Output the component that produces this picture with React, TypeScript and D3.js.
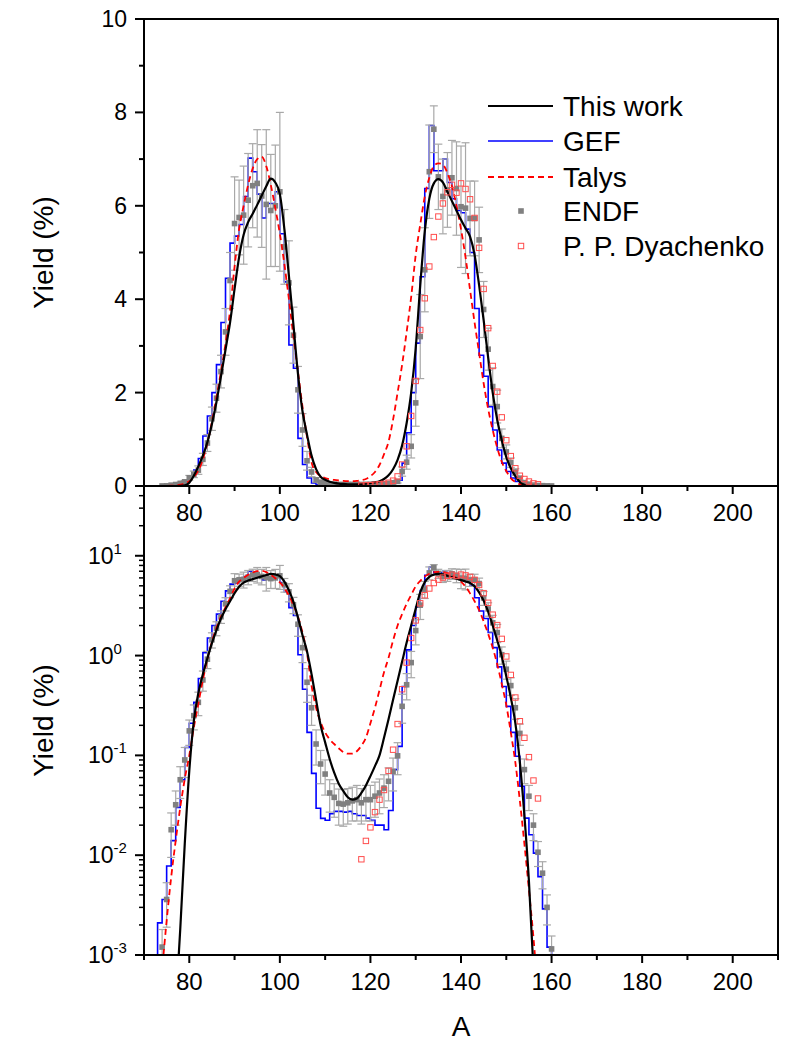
import React from 'react';
import * as d3 from 'd3';

// ---------------- data ----------------
const X_TICKS_MAJOR = [80, 100, 120, 140, 160, 180, 200];
const X_TICKS_MINOR = [70, 90, 110, 130, 150, 170, 190, 210];
const Y_LIN_MAJOR = [0, 2, 4, 6, 8, 10];
const Y_LIN_MINOR = [1, 3, 5, 7, 9];
const Y_LOG_EXP = [-3, -2, -1, 0, 1];

// This work (smooth)
const WORK_A = [71, 73, 75, 76, 77, 78, 79, 80, 81, 82, 83, 84, 85, 86, 87, 88, 89, 90, 91, 92, 93, 94, 95, 96, 97, 98, 99, 100, 101, 102, 103, 104, 105, 106, 107, 108, 109, 110, 111, 112, 113, 114, 115, 116, 117, 118, 119, 120, 121, 122, 123, 124, 125, 126, 127, 128, 129, 130, 131, 132, 133, 134, 135, 136, 137, 138, 139, 140, 141, 142, 143, 144, 145, 146, 147, 148, 149, 150, 151, 152, 153, 154, 155, 156, 157, 160, 165, 172];
const WORK_Y = [1e-9, 1e-7, 1e-5, 6e-5, 3e-4, 1.8e-3, 0.013, 0.07, 0.22, 0.42, 0.65, 0.94, 1.33, 1.8, 2.35, 2.92, 3.5, 4.22, 4.9, 5.38, 5.65, 5.83, 6.02, 6.22, 6.42, 6.58, 6.5, 6.25, 5.5, 4.5, 3.45, 2.4, 1.6, 1.1, 0.65, 0.36, 0.2, 0.135, 0.092, 0.067, 0.052, 0.044, 0.038, 0.036, 0.037, 0.042, 0.05, 0.062, 0.078, 0.1, 0.15, 0.23, 0.36, 0.56, 0.87, 1.35, 2.0, 2.95, 4.3, 5.45, 6.15, 6.48, 6.57, 6.5, 6.3, 6.1, 5.9, 5.7, 5.52, 5.34, 4.95, 4.3, 3.55, 2.75, 2.0, 1.42, 0.98, 0.62, 0.38, 0.21, 0.085, 0.025, 0.0055, 7e-4, 8e-5, 1e-6, 1e-8, 1e-10];

// GEF (histogram, value holds from A to A+1)
const GEF_A = [72, 73, 74, 75, 76, 77, 78, 79, 80, 81, 82, 83, 84, 85, 86, 87, 88, 89, 90, 91, 92, 93, 94, 95, 96, 97, 98, 99, 100, 101, 102, 103, 104, 105, 106, 107, 108, 109, 110, 111, 112, 113, 114, 115, 116, 117, 118, 119, 120, 121, 122, 123, 124, 125, 126, 127, 128, 129, 130, 131, 132, 133, 134, 135, 136, 137, 138, 139, 140, 141, 142, 143, 144, 145, 146, 147, 148, 149, 150, 151, 152, 153, 154, 155, 156, 157, 158, 159, 160];
const GEF_Y = [0, 0.0021, 0.0036, 0.0078, 0.014, 0.03, 0.057, 0.12, 0.21, 0.34, 0.59, 1.07, 1.5, 2.0, 2.6, 3.5, 4.45, 5.2, 5.35, 5.6, 6.2, 7.02, 6.73, 6.25, 5.74, 6.05, 6.05, 6.3, 5.4, 4.37, 3.02, 2.52, 1.02, 0.46, 0.17, 0.066, 0.0295, 0.0234, 0.0224, 0.026, 0.0275, 0.0275, 0.027, 0.0275, 0.026, 0.025, 0.025, 0.0235, 0.0224, 0.02, 0.02, 0.018, 0.028, 0.072, 0.123, 0.49, 1.14, 2.0, 3.06, 4.48, 6.37, 7.72, 6.75, 6.75, 7.0, 6.5, 6.15, 5.9, 5.85, 5.5, 5.0, 3.8, 2.8, 2.35, 1.7, 1.2, 0.77, 0.49, 0.31, 0.17, 0.098, 0.049, 0.0235, 0.016, 0.0105, 0.0061, 0.0029, 0.0012, 0];

// Talys (smooth, dashed)
const TALYS_A = [73, 74, 75, 76, 77, 78, 79, 80, 81, 82, 83, 84, 85, 86, 87, 88, 89, 90, 91, 92, 93, 94, 95, 96, 97, 98, 99, 100, 101, 102, 103, 104, 105, 106, 107, 108, 109, 110, 111, 112, 113, 114, 115, 116, 117, 118, 119, 120, 121, 122, 123, 124, 125, 126, 127, 128, 129, 130, 131, 132, 133, 134, 135, 136, 137, 138, 139, 140, 141, 142, 143, 144, 145, 146, 147, 148, 149, 150, 151, 152, 153, 154, 155, 156, 157, 158];
const TALYS_Y = [2e-4, 7e-4, 2.2e-3, 6e-3, 0.014, 0.03, 0.058, 0.1, 0.19, 0.33, 0.57, 0.92, 1.38, 1.9, 2.45, 3.05, 3.75, 4.7, 5.5, 6.0, 6.45, 6.8, 7.0, 7.05, 6.85, 6.45, 5.95, 5.4, 4.75, 4.0, 3.2, 2.45, 1.7, 1.05, 0.5, 0.3, 0.215, 0.17, 0.145, 0.13, 0.118, 0.108, 0.104, 0.104, 0.11, 0.125, 0.15, 0.21, 0.3, 0.45, 0.68, 0.95, 1.42, 2.0, 2.6, 3.3, 4.05, 4.95, 5.6, 6.2, 6.6, 6.85, 6.91, 6.88, 6.7, 6.42, 6.0, 5.5, 4.9, 4.2, 3.5, 2.85, 2.2, 1.65, 1.2, 0.82, 0.52, 0.32, 0.17, 0.085, 0.035, 0.013, 0.0045, 0.0015, 4e-4, 1e-4];

// ENDF (points with error bars)
const ENDF_A = [74, 75, 76, 77, 78, 79, 80, 81, 82, 83, 84, 85, 86, 87, 88, 89, 90, 91, 92, 93, 94, 95, 96, 97, 98, 99, 100, 101, 102, 103, 104, 105, 106, 107, 108, 109, 110, 111, 112, 113, 114, 115, 116, 117, 118, 119, 120, 121, 122, 123, 124, 125, 126, 127, 128, 129, 130, 131, 132, 133, 134, 135, 136, 137, 138, 139, 140, 141, 142, 143, 144, 145, 146, 147, 148, 149, 150, 151, 152, 153, 154, 155, 156, 157, 158, 159, 160];
const ENDF_Y = [0.0012, 0.0036, 0.018, 0.032, 0.057, 0.09, 0.176, 0.25, 0.34, 0.57, 0.92, 1.44, 1.88, 2.45, 3.3, 4.4, 5.62, 5.75, 5.8, 6.12, 6.43, 6.48, 6.21, 6.03, 5.9, 6.0, 6.3, 5.12, 4.35, 3.23, 2.06, 1.2, 0.54, 0.3, 0.13, 0.082, 0.065, 0.042, 0.038, 0.033, 0.0325, 0.0335, 0.035, 0.036, 0.0335, 0.036, 0.036, 0.039, 0.042, 0.047, 0.055, 0.069, 0.099, 0.31, 0.51, 0.85, 1.78, 3.2, 4.63, 6.73, 7.64, 6.62, 6.2, 6.34, 6.6, 6.37, 5.98, 5.95, 5.73, 5.73, 5.27, 3.78, 2.93, 2.13, 1.7, 1.02, 0.73, 0.5, 0.3, 0.166, 0.072, 0.039, 0.02, 0.0107, 0.0066, 0.003, 0.00115];
const ENDF_ERR = [0.0006, 0.0017, 0.0085, 0.012, 0.02, 0.03, 0.05, 0.07, 0.09, 0.13, 0.18, 0.25, 0.3, 0.35, 0.5, 0.6, 1.0, 0.8, 1.05, 1.0, 0.9, 1.15, 1.1, 1.6, 1.2, 1.3, 1.7, 0.8, 0.9, 0.6, 0.5, 0.35, 0.2, 0.1, 0.05, 0.03, 0.025, 0.015, 0.014, 0.013, 0.013, 0.013, 0.013, 0.014, 0.013, 0.014, 0.014, 0.015, 0.016, 0.017, 0.02, 0.025, 0.035, 0.1, 0.15, 0.25, 0.5, 0.9, 0.9, 1.0, 0.5, 0.7, 0.8, 0.8, 0.8, 1.0, 1.3, 1.4, 0.8, 0.8, 0.7, 0.6, 0.45, 0.4, 0.35, 0.2, 0.15, 0.1, 0.07, 0.04, 0.02, 0.011, 0.006, 0.003, 0.002, 0.001, 0.0004];

// P. P. Dyachenko (open squares)
const DYA_A = [118, 119, 120, 121, 122, 123, 124, 125, 126, 127, 128, 129, 130, 131, 132, 133, 134, 135, 136, 137, 138, 139, 140, 141, 142, 143, 144, 145, 146, 147, 148, 149, 150, 151, 152, 153, 154, 155, 156, 157];
const DYA_Y = [0.0091, 0.0139, 0.019, 0.027, 0.036, 0.045, 0.07, 0.114, 0.206, 0.46, 0.85, 1.5, 2.25, 3.34, 4.02, 4.7, 5.33, 5.77, 6.05, 6.29, 6.45, 6.28, 6.48, 6.36, 6.14, 5.74, 5.1, 4.22, 3.38, 2.57, 2.02, 1.47, 0.98, 0.64, 0.38, 0.22, 0.15, 0.096, 0.056, 0.037];

const LEGEND_LABELS = ['This work', 'GEF', 'Talys', 'ENDF', 'P. P. Dyachenko'];

// ---------------- drawing ----------------
const FONT = "'Liberation Sans', Arial, Helvetica, sans-serif";
const C_BLACK = '#000000';
const C_BLUE = '#0000ff';
const C_RED = '#ff0000';
const C_GRAY = '#808080';
const C_ERR = '#a8a8a8';
const C_DYA = '#ff4d4d';

const zip = (a: number[], b: number[]) => a.map((v, i) => [v, b[i]] as [number, number]);

export default function App() {
  const L = 144, R = 778;
  const T1 = 19, B1 = 486, T2 = 486, B2 = 955;
  const x = d3.scaleLinear().domain([70, 210]).range([L, R]);
  const yLin = d3.scaleLinear().domain([0, 10]).range([B1, T1]);
  const yLogS = d3.scaleLog().domain([1e-3, 50]).range([B2, T2]);
  const yLog = (v: number) => yLogS(Math.max(v, 1e-7));

  const work = zip(WORK_A, WORK_Y);
  const gef = zip(GEF_A, GEF_Y);
  const talys = zip(TALYS_A, TALYS_Y);
  const dya = zip(DYA_A, DYA_Y);
  const endf = ENDF_A.map((a, i) => ({ a, v: ENDF_Y[i], e: ENDF_ERR[i] }));

  const renderSeries = (y: (v: number) => number, clipId: string) => {
    const smooth = d3.line<[number, number]>().x(d => x(d[0])).y(d => y(d[1])).curve(d3.curveMonotoneX);
    const step = d3.line<[number, number]>().x(d => x(d[0])).y(d => y(d[1])).curve(d3.curveStepAfter);
    return (
      <g clipPath={`url(#${clipId})`}>
        <path d={step(gef) || ''} fill="none" stroke={C_BLUE} strokeWidth={1.6} />
        {endf.map((p, i) => {
          const cx = x(p.a);
          const yt = y(p.v + p.e);
          const yb = y(p.v - p.e > 0 ? p.v - p.e : 1e-9);
          return (
            <g key={'e' + i} stroke={C_ERR} strokeWidth={1.2}>
              <line x1={cx} x2={cx} y1={yt} y2={yb} />
              <line x1={cx - 4} x2={cx + 4} y1={yt} y2={yt} />
              <line x1={cx - 4} x2={cx + 4} y1={yb} y2={yb} />
            </g>
          );
        })}
        {endf.map((p, i) => (
          <rect key={'s' + i} x={x(p.a) - 2.8} y={y(p.v) - 2.8} width={5.6} height={5.6} fill={C_GRAY} />
        ))}
        <path d={smooth(talys) || ''} fill="none" stroke={C_RED} strokeWidth={1.8} strokeDasharray="6 4" />
        <path d={smooth(work) || ''} fill="none" stroke={C_BLACK} strokeWidth={2.2} />
        {dya.map((p, i) => (
          <rect key={'d' + i} x={x(p[0]) - 2.7} y={y(p[1]) - 2.7} width={5.4} height={5.4} fill="none" stroke={C_DYA} strokeWidth={1} />
        ))}
      </g>
    );
  };

  const xTicks = (yAxis: number, keyP: string) => (
    <g stroke="#000" strokeWidth={2}>
      {X_TICKS_MAJOR.map(t => <line key={keyP + 'M' + t} x1={x(t)} x2={x(t)} y1={yAxis} y2={yAxis + 8} />)}
      {X_TICKS_MINOR.map(t => <line key={keyP + 'm' + t} x1={x(t)} x2={x(t)} y1={yAxis} y2={yAxis + 5} />)}
    </g>
  );
  const xLabels = (baseline: number, keyP: string) => (
    <g fontSize={24} textAnchor="middle" fill="#000">
      {X_TICKS_MAJOR.map(t => <text key={keyP + 'l' + t} x={x(t)} y={baseline}>{t}</text>)}
    </g>
  );

  const logMinor: number[] = [];
  for (let e = -3; e <= 1; e++) {
    for (let k = 2; k <= 9; k++) {
      const v = k * Math.pow(10, e);
      if (v < 50) logMinor.push(v);
    }
  }

  const legendY = [106, 141, 177, 211, 246];

  return (
    <svg width={786} height={1044} style={{ position: 'absolute', left: 0, top: 0, background: '#fff' }} fontFamily={FONT}>
      <defs>
        <clipPath id="clipTop"><rect x={L} y={T1} width={R - L} height={B1 - T1} /></clipPath>
        <clipPath id="clipBot"><rect x={L} y={T2} width={R - L} height={B2 - T2} /></clipPath>
      </defs>
      <rect x={0} y={0} width={786} height={1044} fill="#fff" />

      {renderSeries(yLin, 'clipTop')}
      {renderSeries(yLog, 'clipBot')}

      {/* frames */}
      <rect x={L} y={T1} width={R - L} height={B2 - T1} fill="none" stroke="#000" strokeWidth={2} />
      <line x1={L} x2={R} y1={B1} y2={B1} stroke="#000" strokeWidth={2} />

      {/* top panel y axis */}
      <g stroke="#000" strokeWidth={2}>
        {Y_LIN_MAJOR.map(t => <line key={'ym' + t} x1={L - 9} x2={L} y1={yLin(t)} y2={yLin(t)} />)}
        {Y_LIN_MINOR.map(t => <line key={'yn' + t} x1={L - 5} x2={L} y1={yLin(t)} y2={yLin(t)} />)}
      </g>
      <g fontSize={23} textAnchor="end" fill="#000">
        {Y_LIN_MAJOR.map(t => <text key={'yl' + t} x={127} y={yLin(t) + 8}>{t}</text>)}
      </g>

      {/* bottom panel y axis (log) */}
      <g stroke="#000" strokeWidth={2}>
        {Y_LOG_EXP.map(e => <line key={'lm' + e} x1={L - 9} x2={L} y1={yLogS(Math.pow(10, e))} y2={yLogS(Math.pow(10, e))} />)}
      </g>
      <g stroke="#000" strokeWidth={1.5}>
        {logMinor.map(v => <line key={'ln' + v} x1={L - 5} x2={L} y1={yLogS(v)} y2={yLogS(v)} />)}
      </g>
      <g fontSize={23} fill="#000">
        {Y_LOG_EXP.map(e => (
          <text key={'ll' + e} x={88} y={yLogS(Math.pow(10, e)) + 8}>
            10<tspan fontSize={15} dy={-10}>{e}</tspan>
          </text>
        ))}
      </g>

      {xTicks(B1, 't')}
      {xLabels(B1 + 35, 't')}
      {xTicks(B2, 'b')}
      {xLabels(B2 + 35, 'b')}

      {/* axis titles */}
      <text x={0} y={0} fontSize={28} textAnchor="middle" transform={`translate(53,${(T1 + B1) / 2}) rotate(-90)`}>Yield (%)</text>
      <text x={0} y={0} fontSize={28} textAnchor="middle" transform={`translate(53,${(T2 + B2) / 2}) rotate(-90)`}>Yield (%)</text>
      <text x={(L + R) / 2} y={1036} fontSize={28} textAnchor="middle">A</text>

      {/* legend */}
      <g>
        <line x1={488} x2={553} y1={legendY[0]} y2={legendY[0]} stroke={C_BLACK} strokeWidth={2.2} />
        <line x1={488} x2={553} y1={legendY[1]} y2={legendY[1]} stroke={C_BLUE} strokeWidth={1.6} />
        <line x1={488} x2={553} y1={legendY[2]} y2={legendY[2]} stroke={C_RED} strokeWidth={1.8} strokeDasharray="6 4" />
        <rect x={521 - 2.8} y={legendY[3] - 2.8} width={5.6} height={5.6} fill={C_GRAY} />
        <rect x={521 - 2.7} y={legendY[4] - 2.7} width={5.4} height={5.4} fill="none" stroke={C_DYA} strokeWidth={1} />
        {LEGEND_LABELS.map((s, i) => (
          <text key={'lg' + i} x={563} y={legendY[i] + 10} fontSize={28} fill="#000">{s}</text>
        ))}
      </g>
    </svg>
  );
}
